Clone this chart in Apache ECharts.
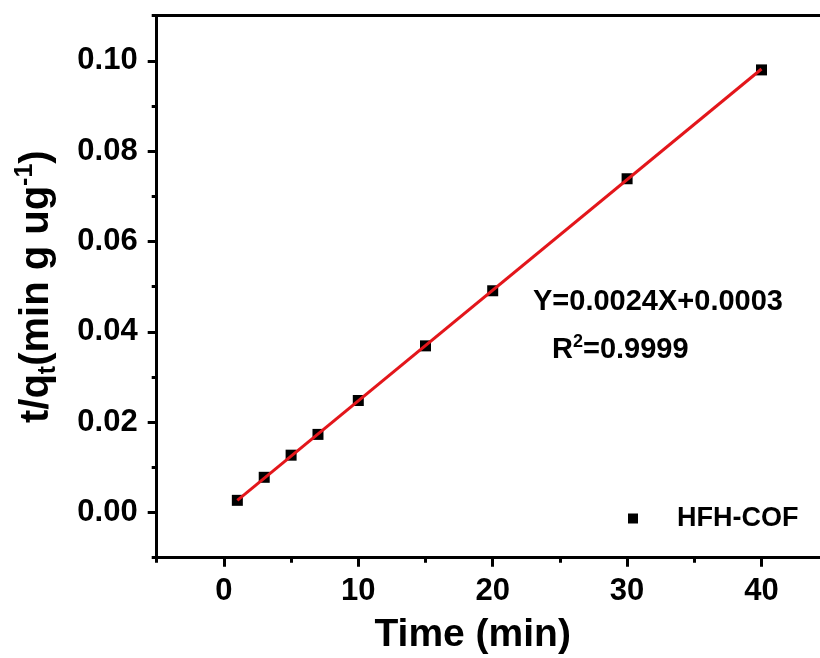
<!DOCTYPE html>
<html>
<head>
<meta charset="utf-8">
<script src="https://cdn.jsdelivr.net/npm/echarts@6/dist/echarts.min.js"></script>
<style>
html,body{margin:0;padding:0;background:#fff;}
#c{width:820px;height:658px;}
</style>
</head>
<body>
<div id="c"></div>
<script>
// Data
var timeMin = [1, 3, 5, 7, 10, 15, 20, 30, 40];
var tOverQt = [0.0027, 0.0078, 0.0127, 0.0173, 0.0248, 0.0369, 0.0491, 0.0739, 0.0980];
var fitX = [1, 40];
var fitY = [0.0027, 0.0982];
var xMajorTicks = [0, 10, 20, 30, 40];
var xMinorTicks = [-5, 5, 15, 25, 35, 45];
var yMajorTicks = [0, 0.02, 0.04, 0.06, 0.08, 0.10];
var yMinorTicks = [-0.01, 0.01, 0.03, 0.05, 0.07, 0.09, 0.11];
var seriesName = 'HFH-COF';
var eqLine1 = 'Y=0.0024X+0.0003';
var eqR2 = '=0.9999';

var FONT = '"Liberation Sans", Arial, sans-serif';
var chart = echarts.init(document.getElementById('c'), null, {renderer: 'canvas'});

var scatterData = timeMin.map(function (x, i) { return [x, tOverQt[i]]; });
var fitData = fitX.map(function (x, i) { return [x, fitY[i]]; });

var axisLineStyle = {color: '#000', width: 3};
var X_MIN = -5, X_MAX = 45; // the picture is cut at its right edge

chart.setOption({
  animation: false,
  backgroundColor: '#fff',
  grid: {
    left: 156.7, top: 15.7, width: 672, height: 542,
    show: false, containLabel: false, outerBoundsMode: 'none'
  },
  legend: {
    data: [{name: seriesName, icon: 'rect', itemStyle: {color: '#000', opacity: 1}}],
    left: 623, top: 500,
    itemWidth: 10, itemHeight: 10,
    textStyle: {fontFamily: FONT, fontWeight: 'bold', fontSize: 27, color: '#000', padding: [0, 0, 0, 34]}
  },
  xAxis: [{
    type: 'value', min: X_MIN, max: X_MAX, position: 'bottom',
    name: 'Time (min)', nameLocation: 'middle', nameGap: 58,
    nameTextStyle: {fontFamily: FONT, fontWeight: 'bold', fontSize: 39, color: '#000', padding: [0, 40, 0, 0]},
    axisLine: {show: true, onZero: false, lineStyle: axisLineStyle},
    axisTick: {show: true, inside: false, length: 9, lineStyle: axisLineStyle, customValues: xMajorTicks},
    axisLabel: {show: true, margin: 18, fontFamily: FONT, fontWeight: 'bold', fontSize: 31, color: '#000', customValues: xMajorTicks},
    splitLine: {show: false}
  }, {
    type: 'value', min: X_MIN, max: X_MAX, position: 'bottom',
    axisLine: {show: false, onZero: false},
    axisTick: {show: true, inside: false, length: 5, lineStyle: axisLineStyle, customValues: xMinorTicks},
    axisLabel: {show: false},
    splitLine: {show: false}
  }, {
    type: 'value', min: X_MIN, max: X_MAX, position: 'top',
    axisLine: {show: true, onZero: false, lineStyle: axisLineStyle},
    axisTick: {show: false},
    axisLabel: {show: false},
    splitLine: {show: false}
  }],
  yAxis: [{
    type: 'value', min: -0.01, max: 0.11, position: 'left',
    name: '{a|t/q}{sub|t}{a|(min g ug}{sup|-1}{a|)}',
    nameLocation: 'middle', nameGap: 96,
    nameTextStyle: {
      color: '#000',
      rich: {
        a: {fontFamily: FONT, fontWeight: 'bold', fontSize: 40, color: '#000', lineHeight: 48},
        sub: {fontFamily: FONT, fontWeight: 'bold', fontSize: 25, color: '#000', lineHeight: 48, verticalAlign: 'bottom', padding: [15, 0, 0, 0]},
        sup: {fontFamily: FONT, fontWeight: 'bold', fontSize: 25, color: '#000', lineHeight: 48, verticalAlign: 'top', padding: [0, 0, 17, 0]}
      }
    },
    axisLine: {show: true, onZero: false, lineStyle: axisLineStyle},
    axisTick: {show: true, inside: false, length: 9, lineStyle: axisLineStyle, customValues: yMajorTicks},
    axisLabel: {show: true, margin: 19, fontFamily: FONT, fontWeight: 'bold', fontSize: 31, color: '#000',
      customValues: yMajorTicks, formatter: function (v) { return v.toFixed(2); }},
    splitLine: {show: false}
  }, {
    type: 'value', min: -0.01, max: 0.11, position: 'left', offset: 0,
    axisLine: {show: false, onZero: false},
    axisTick: {show: true, inside: false, length: 5, lineStyle: axisLineStyle, customValues: yMinorTicks},
    axisLabel: {show: false},
    splitLine: {show: false}
  }],
  series: [{
    name: seriesName, type: 'scatter', xAxisIndex: 0, yAxisIndex: 0,
    symbol: 'rect', symbolSize: 11,
    itemStyle: {color: '#000', opacity: 1},
    data: scatterData, z: 2
  }, {
    name: 'fit', type: 'line', xAxisIndex: 0, yAxisIndex: 0,
    showSymbol: false, symbol: 'none',
    lineStyle: {color: '#e3161b', width: 3},
    data: fitData, z: 3
  }],
  graphic: [{
    type: 'text', left: 533, top: 287,
    style: {text: eqLine1, font: 'bold 29px ' + FONT, fill: '#000'}
  }, {
    type: 'text', left: 552, top: 333,
    style: {
      text: '{a|R}{sup|2}{a|' + eqR2 + '}',
      rich: {
        a: {font: 'bold 29px ' + FONT, fill: '#000', lineHeight: 34},
        sup: {font: 'bold 18px ' + FONT, fill: '#000', lineHeight: 34, verticalAlign: 'top', padding: [0, 0, 11, 0]}
      }
    }
  }]
});
</script>
</body>
</html>
